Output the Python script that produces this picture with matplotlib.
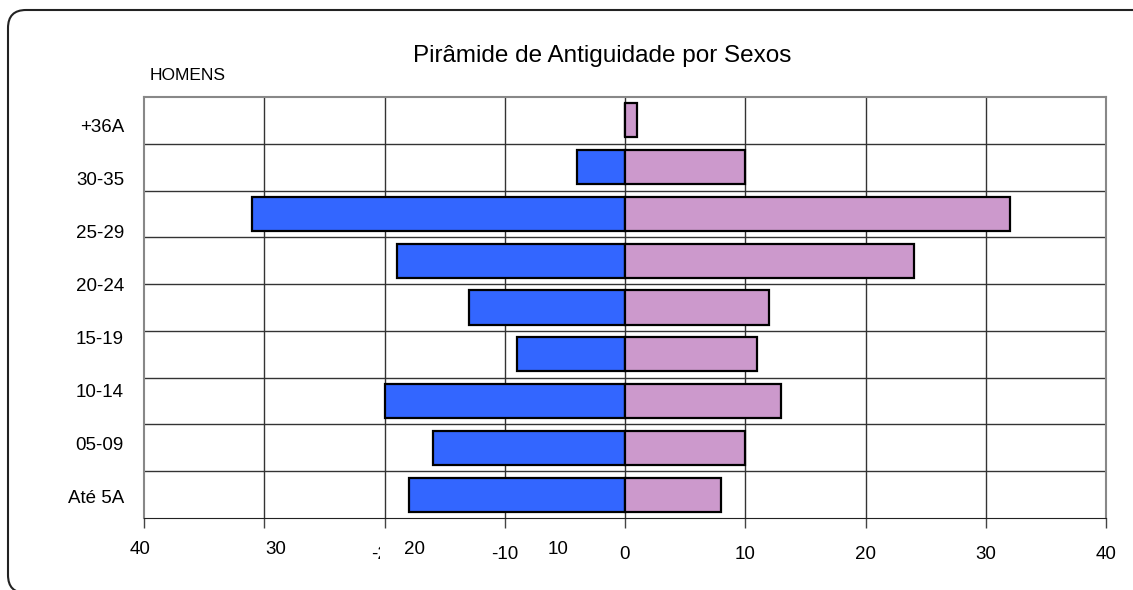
import numpy as np
import matplotlib
matplotlib.use('Agg')
import matplotlib.pyplot as plt
from matplotlib.patches import Rectangle, FancyBboxPatch
from matplotlib import transforms

plt.rcParams['font.family'] = ['Liberation Sans', 'DejaVu Sans']

# dados (de baixo para cima)
faixas = ['Até 5A', '05-09', '10-14', '15-19', '20-24', '25-29', '30-35', '+36A']
homens = [18, 16, 20, 9, 13, 19, 31, 4, 0]
mulheres = [8, 10, 13, 11, 12, 24, 32, 10, 1]
x_ticks = [-40, -30, -20, -10, 0, 10, 20, 30, 40]
# -40 e -30 ficam escondidos atras das caixas brancas no original
x_labels = ['', '', '-20', '-10', '0', '10', '20', '30', '40']
# rotulos sobrepostos do eixo (lado dos homens)
rotulos_extra = ['40', '30', '20', '10']
pos_extra = [-40.3, -29.0, -17.5, -5.6]

W, H = 1133, 590
fig = plt.figure(figsize=(W / 100, H / 100), dpi=100)
ax = fig.add_axes([144 / W, 1 - 518 / H, (1106 - 144) / W, (518 - 97) / H])

linhas = np.arange(len(homens))
ax.barh(linhas, [-v for v in homens], height=0.73, color='#3366FF',
        edgecolor='black', linewidth=1.6, zorder=3)
ax.barh(linhas, mulheres, height=0.73, color='#CC99CC',
        edgecolor='black', linewidth=1.6, zorder=3)

ax.set_xlim(-40, 40)
ax.set_ylim(-0.5, len(homens) - 0.5)

# grade
for v in x_ticks[1:-1]:
    ax.axvline(v, color='#333333', lw=1, zorder=1)
for b in linhas[:-1] + 0.5:
    ax.axhline(b, color='#333333', lw=1, zorder=1)

for s in ['left', 'top', 'right']:
    ax.spines[s].set_color('#888888')
    ax.spines[s].set_linewidth(1.5)
ax.spines['bottom'].set_color('#222222')

ax.set_xticks(x_ticks)
ax.set_xticklabels(x_labels, fontsize=13.5)
ax.tick_params(axis='x', length=7, width=1, color='#444444', pad=13)

pos_y = np.linspace(len(homens) - 1.1, -0.05, len(faixas))[::-1]
ax.set_yticks(pos_y)
ax.set_yticklabels(faixas, fontsize=13.5)
ax.tick_params(axis='y', length=0, pad=14.4)

# caixas brancas com os rotulos sobrepostos
tr = transforms.blended_transform_factory(ax.transData, ax.transAxes)
for lab, xp in zip(rotulos_extra, pos_extra):
    ax.add_patch(Rectangle((xp - 2.9, -0.125), 5.8, 0.085, transform=tr,
                           facecolor='white', edgecolor='none', clip_on=False, zorder=5))
    ax.text(xp, -(549 - 518) / (518 - 97), lab, transform=tr, ha='center', va='center',
            fontsize=13.5, clip_on=False, zorder=6)

fig.text(602 / W, 1 - 56 / H, 'Pirâmide de Antiguidade por Sexos',
         ha='center', va='center', fontsize=17.5)
fig.text(150 / W, 1 - 75 / H, 'HOMENS', ha='left', va='center', fontsize=12.5)

# moldura arredondada
moldura = FancyBboxPatch((8, -3), 1150, H - 10 + 3, boxstyle='round,pad=0,rounding_size=18',
                         transform=None, facecolor='none', edgecolor='#222222', linewidth=1.5)
fig.patches.append(moldura)

fig.savefig('out.png', dpi=100)
